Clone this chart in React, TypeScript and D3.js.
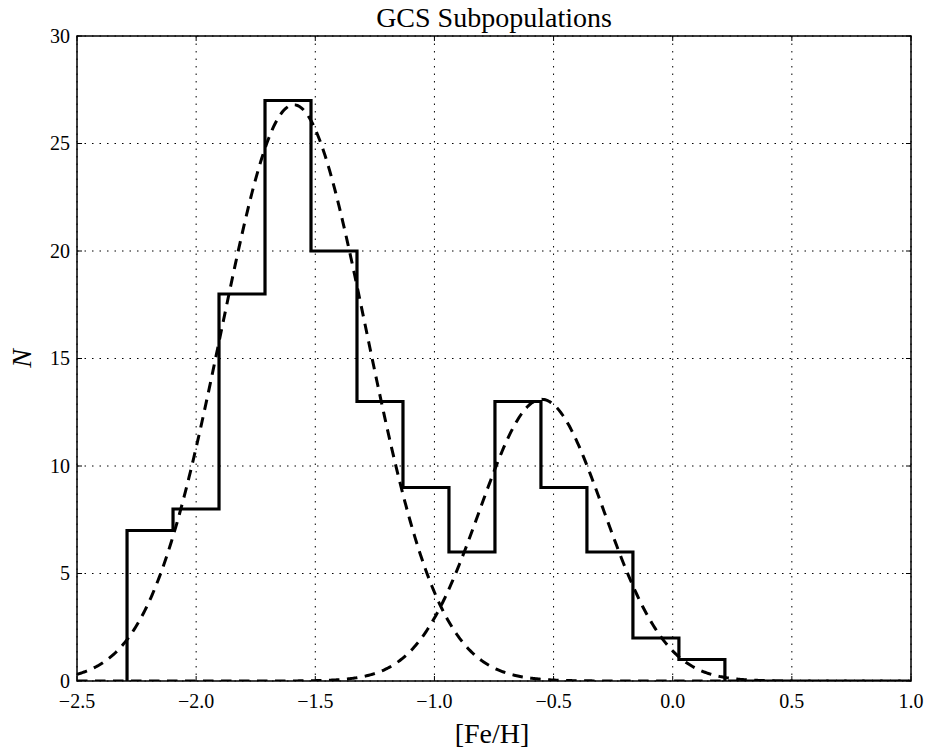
import React from "react";
import * as d3 from "d3";

const binEdges = [-2.29, -2.097, -1.904, -1.711, -1.518, -1.325, -1.132, -0.939, -0.746, -0.553, -0.36, -0.167, 0.026, 0.219];
const binCounts = [7, 8, 18, 27, 20, 13, 9, 6, 13, 9, 6, 2, 1];
// Gaussian fit components: [mean, sigma, amplitude]
const fitMeans = [-1.59, -0.55];
const fitSigmas = [0.305, 0.26];
const fitAmps = [26.8, 13.1];
const xTicks = [-2.5, -2.0, -1.5, -1.0, -0.5, 0.0, 0.5, 1.0];
const yTicks = [0, 5, 10, 15, 20, 25, 30];

const W = 927, H = 751;
const L = 77, R = 911, T = 36, B = 681;
const FONT = "Liberation Serif, DejaVu Serif, serif";

export default function App() {
  const x = d3.scaleLinear().domain([-2.5, 1.0]).range([L, R]);
  const y = d3.scaleLinear().domain([0, 30]).range([B, T]);

  const stepPts: [number, number][] = [[binEdges[0], 0]];
  binCounts.forEach((c, i) => {
    stepPts.push([binEdges[i], c]);
    stepPts.push([binEdges[i + 1], c]);
  });
  stepPts.push([binEdges[binEdges.length - 1], 0]);
  const line = d3.line<[number, number]>().x(d => x(d[0])).y(d => y(d[1]));
  const histPath = line(stepPts) || "";

  const xs = d3.range(0, 701).map(i => -2.5 + (3.5 * i) / 700);
  const curves = fitMeans.map((m, k) => {
    const pts: [number, number][] = xs.map(v => [v, fitAmps[k] * Math.exp(-((v - m) ** 2) / (2 * fitSigmas[k] ** 2))]);
    return line(pts) || "";
  });

  const fmt = (v: number) => (v < 0 ? "\u2212" : "") + Math.abs(v).toFixed(1);
  const ts = { fontFamily: FONT };

  return (
    <svg width={W} height={H} style={{ position: "absolute", left: 0, top: 0, background: "#fff" }}>
      <defs>
        <clipPath id="plot">
          <rect x={L} y={T} width={R - L} height={B - T} />
        </clipPath>
      </defs>
      {xTicks.map(t => (
        <line key={"gx" + t} x1={x(t)} x2={x(t)} y1={T} y2={B} stroke="#000" strokeWidth={1} strokeDasharray="1.5,6" />
      ))}
      {yTicks.map(t => (
        <line key={"gy" + t} x1={L} x2={R} y1={y(t)} y2={y(t)} stroke="#000" strokeWidth={1} strokeDasharray="1.5,6" />
      ))}
      <g clipPath="url(#plot)">
        {curves.map((d, i) => (
          <path key={"c" + i} d={d} fill="none" stroke="#000" strokeWidth={3} strokeDasharray="10.5,7.5" />
        ))}
        <path d={histPath} fill="none" stroke="#000" strokeWidth={3.2} strokeLinejoin="miter" />
      </g>
      {xTicks.map(t => (
        <g key={"tx" + t}>
          <line x1={x(t)} x2={x(t)} y1={B} y2={B - 5} stroke="#000" strokeWidth={1} />
          <line x1={x(t)} x2={x(t)} y1={T} y2={T + 5} stroke="#000" strokeWidth={1} />
          <text x={x(t)} y={708} textAnchor="middle" fontSize={20} style={ts}>{fmt(t)}</text>
        </g>
      ))}
      {yTicks.map(t => (
        <g key={"ty" + t}>
          <line x1={L} x2={L + 5} y1={y(t)} y2={y(t)} stroke="#000" strokeWidth={1} />
          <line x1={R} x2={R - 5} y1={y(t)} y2={y(t)} stroke="#000" strokeWidth={1} />
          <text x={70} y={y(t) + 6.5} textAnchor="end" fontSize={20} style={ts}>{t}</text>
        </g>
      ))}
      <rect x={L} y={T} width={R - L} height={B - T} fill="none" stroke="#000" strokeWidth={1.5} />
      <text x={(L + R) / 2} y={27} textAnchor="middle" fontSize={28} style={ts}>GCS Subpopulations</text>
      <text x={(L + R) / 2 - 2} y={743} textAnchor="middle" fontSize={28} style={ts}>[Fe/H]</text>
      <text transform={`translate(31, ${(T + B) / 2}) rotate(-90)`} textAnchor="middle" fontSize={28} fontStyle="italic" style={ts}>N</text>
    </svg>
  );
}
